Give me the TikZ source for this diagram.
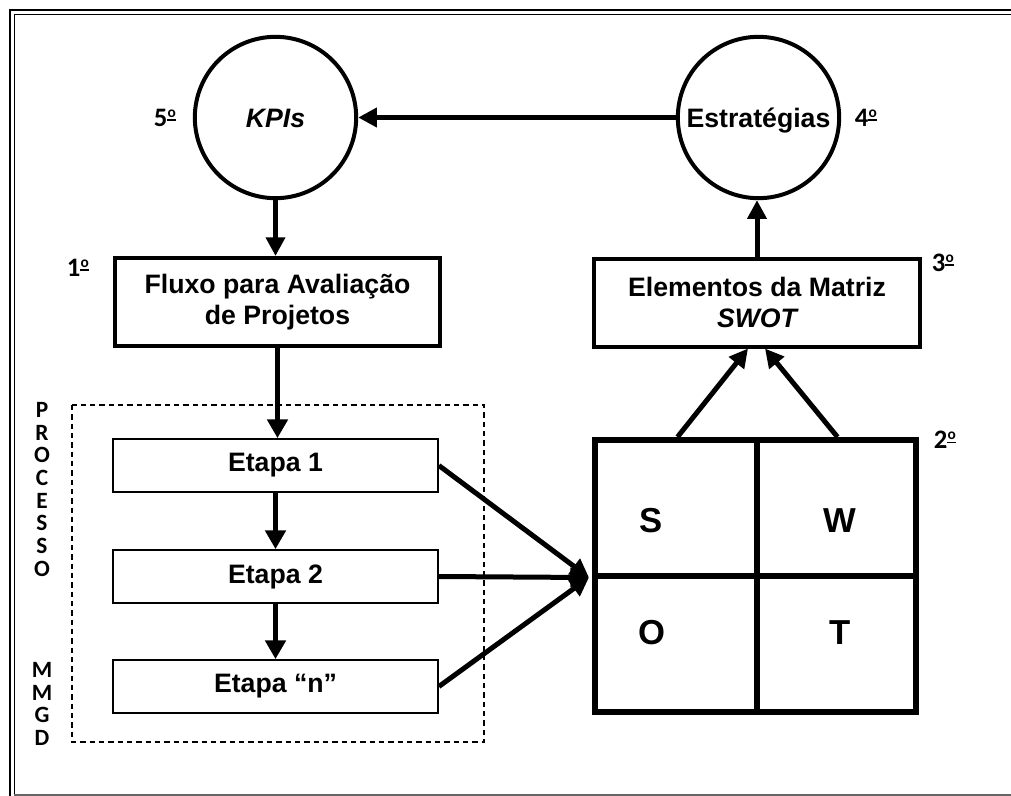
\documentclass[tikz,border=0pt]{standalone}
\usepackage{fontspec}
\setmainfont{Liberation Sans}
\newfontfamily\carlito{Carlito}
\usetikzlibrary{arrows.meta,calc}
\newcommand\ordo{\makebox[6.5pt][c]{\raisebox{6.8pt}{\fontsize{11.5}{12}\selectfont o}}\llap{\rule[4.2pt]{6.5pt}{1.2pt}}}
\begin{document}
\begin{tikzpicture}[x=0.75pt,y=-0.75pt,
  mainfont/.style={font=\bfseries\fontsize{20}{23}\selectfont},
  circ/.style={circle,draw,line width=3pt,minimum size=121pt,inner sep=0pt,text height=14.3pt,text depth=0pt,mainfont},
  bigbox/.style={draw,line width=3pt,minimum width=244pt,minimum height=66pt,inner sep=2pt,align=center,mainfont},
  stepbox/.style={draw,line width=1.1pt,minimum width=244pt,minimum height=40pt,inner sep=2pt,mainfont},
  ordlabel/.style={font=\carlito\bfseries\fontsize{20}{24}\selectfont,inner sep=0pt},
  swotletter/.style={font=\bfseries\fontsize{26}{30}\selectfont,inner sep=0pt},
  thickarrow/.style={line width=3.75pt,-{Triangle[length=14pt,width=14pt]}},
  midarrow/.style={line width=3.6pt,-{Triangle[length=14pt,width=15pt]}}
]
\useasboundingbox (0,0) rectangle (1011,796);
% page border
\draw[line width=2.2pt] (10,796) -- (10,10) -- (1011,10);
\draw[line width=1.1pt] (14.5,796) -- (14.5,14.5) -- (1011,14.5);
\draw[line width=0.8pt,black!60] (14,795) -- (1011,795);

% dashed process frame
\draw[dashed,line width=0.8pt,dash pattern=on 4pt off 3pt] (72,405) rectangle (484,742);

% circles
\node[circ] (kpi) at (275.5,117.5) {\itshape KPIs};
\node[circ] (estr) at (758.5,117.5) {Estratégias};

% boxes
\node[bigbox] (fluxo) at (277.5,302) {Fluxo para Avaliação\\de Projetos};
\node[bigbox] (elem) at (757,302.5) {Elementos da Matriz\\\itshape SWOT};

\node[stepbox] (e1) at (275.5,465.5) {Etapa 1};
\node[stepbox] (e2) at (275.5,576.5) {Etapa 2};
\node[stepbox] (en) at (275.5,686.5) {Etapa “n”};

% SWOT grid
\node[draw,line width=4.5pt,minimum width=240.75pt,minimum height=204pt,inner sep=0pt] (swot) at (755.5,576) {};
\draw[line width=4.5pt] ($(swot.north)+(1.5,0)$) coordinate (sn) -- ($(swot.south)+(1.5,0)$) coordinate (ss);
\draw[line width=4.5pt] (swot.west) -- (swot.east);
\node[swotletter] (ls) at (651,521) {S};
\node[swotletter] (lw) at (840,521) {W};
\node[swotletter] (lo) at (652,633) {O};
\node[swotletter] (lt) at (840,633) {T};

% ordinal labels
\node[ordlabel] (o5) at (165,118) {5\ordo};
\node[ordlabel] (o4) at (866,118) {4\ordo};
\node[ordlabel] (o1) at (78,268) {1\ordo};
\node[ordlabel] (o3) at (943,263) {3\ordo};
\node[ordlabel] (o2) at (945,440) {2\ordo};

% vertical label
\node[font=\carlito\bfseries\fontsize{17.5}{17}\selectfont,align=center,inner sep=0pt] (proc) at (42,574)
  {P\\R\\O\\C\\E\\S\\S\\O\\[59pt]M\\M\\G\\D};

% connectors
\draw[thickarrow] (estr.west) -- (kpi.east);
\draw[thickarrow] (kpi.south) -- (kpi.south |- fluxo.north);
\draw[midarrow] (fluxo.south) -- (fluxo.south |- e1.north);
\draw[midarrow] (e1.south) -- (e2.north);
\draw[midarrow] (e2.south) -- (en.north);
\draw[thickarrow] (elem.north) -- (elem.north |- estr.south);
\coordinate (sl) at ($(swot.west)+(-3,1.5)$);
\draw[thickarrow] (e1.east) -- (sl);
\draw[thickarrow] (e2.east) -- (sl);
\draw[thickarrow] (en.east) -- (sl);
\draw[thickarrow] ($(swot.north)+(-78,0)$) -- ($(elem.south)+(-9,0)$);
\draw[thickarrow] ($(swot.north)+(82,0)$) -- ($(elem.south)+(8,0)$);
\end{tikzpicture}
\end{document}
